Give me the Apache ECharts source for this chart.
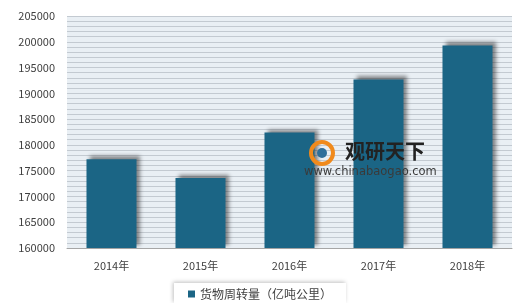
<!DOCTYPE html>
<html><head><meta charset="utf-8">
<script src="https://cdn.jsdelivr.net/npm/echarts@6/dist/echarts.min.js"></script>
<style>html,body{margin:0;padding:0;background:#fff}#c{width:520px;height:303px}</style>
</head><body><div id="c"></div>
<script>
const categories = ['2014年','2015年','2016年','2017年','2018年'];
const values = [177200, 173600, 182400, 192700, 199300];
const seriesName = '货物周转量（亿吨公里）';
const yMin = 160000, yMax = 205000, yLabelStep = 5000, yLineStep = 1000;

const chart = echarts.init(document.getElementById('c'));
chart.setOption({
  animation: false,
  textStyle: {fontFamily: 'Noto Sans CJK SC, sans-serif'},
  grid: {left: 67, right: 8, top: 16, bottom: 55, show: true, backgroundColor: '#e9eff4', borderWidth: 0},
  xAxis: {
    type: 'category', data: categories,
    axisLine: {show: true, lineStyle: {color: '#a6a6a6'}},
    axisTick: {show: false},
    axisLabel: {color: '#404040', fontSize: 11, margin: 12}
  },
  yAxis: {
    type: 'value', min: yMin, max: yMax, interval: yLineStep,
    axisLine: {show: false}, axisTick: {show: false},
    axisLabel: {color: '#404040', fontSize: 11, margin: 12,
      formatter: v => (v % yLabelStep === 0 ? String(v) : '')},
    splitLine: {lineStyle: {color: '#c3cad1', width: 1}}
  },
  legend: {
    bottom: 0, left: 'center', itemWidth: 7, itemHeight: 7, icon: 'rect', itemGap: 6,
    textStyle: {color: '#404040', fontSize: 12},
    backgroundColor: '#fff', padding: [5, 14, 3, 14],
    shadowColor: 'rgba(0,0,0,0.25)', shadowBlur: 4, shadowOffsetX: -1, shadowOffsetY: -1
  },
  graphic: [
    {type: 'text', left: 345, top: 141, z: 10, style: {text: '观研天下', fill: '#222', font: 'bold 20px "Noto Sans CJK SC"'}},
    {type: 'text', left: 304, top: 166, z: 10, style: {text: 'www.chinabaogao.com', fill: '#3a3a3a', font: '11.5px "DejaVu Sans"'}},
    {type: 'circle', shape: {cx: 322, cy: 153, r: 11}, z: 9, style: {fill: 'none', stroke: '#f08a1c', lineWidth: 4}},
    {type: 'circle', shape: {cx: 322, cy: 153, r: 5}, z: 9, style: {fill: '#2f6f9a'}}
  ],
  series: [{
    name: seriesName, type: 'bar', data: values, barWidth: 50,
    itemStyle: {color: '#1b6585', shadowColor: 'rgba(0,0,0,0.45)', shadowBlur: 4, shadowOffsetX: 3, shadowOffsetY: -3}
  }]
});
</script></body></html>
